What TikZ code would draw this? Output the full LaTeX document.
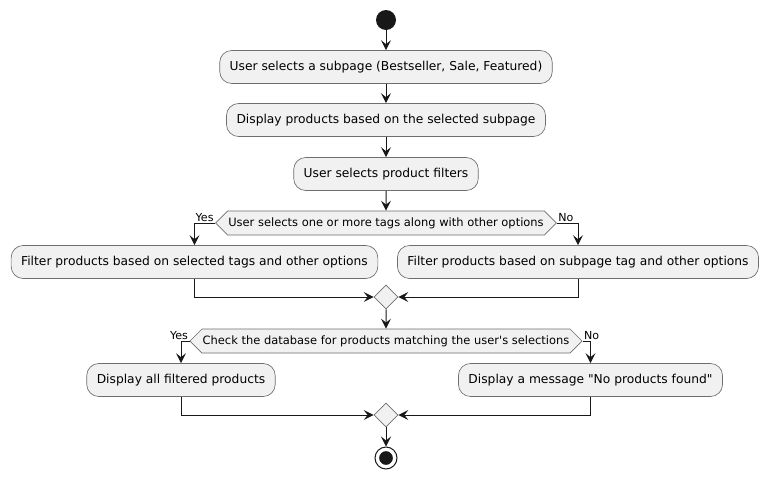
\documentclass[tikz,border=0pt]{standalone}
\usepackage{fontspec}
\setmainfont{DejaVu Sans}[Ligatures=TeXOff]
\usetikzlibrary{arrows.meta,shapes.geometric,shapes.symbols}

\definecolor{umlfill}{RGB}{241,241,241}
\definecolor{umlline}{RGB}{24,24,24}
\definecolor{umlborder}{RGB}{110,110,110}

\begin{document}
\begin{tikzpicture}[x=0.75pt,y=0.75pt,yscale=-1,xscale=1,
  action/.style={draw=umlborder,fill=umlfill,line width=0.5pt,rounded corners=9pt,
    minimum height=24.75pt,inner xsep=7.5pt,font=\fontsize{9.2}{11}\selectfont},
  choice/.style={draw=umlborder,fill=umlfill,line width=0.5pt,shape=signal,
    signal to=east and west,minimum height=18pt,inner xsep=0.5pt,inner ysep=1pt,
    font=\fontsize{8.6}{10}\selectfont},
  merge/.style={draw=umlborder,fill=umlfill,line width=0.5pt,shape=diamond,
    minimum size=18pt,inner sep=0pt},
  guard/.style={inner sep=1pt,font=\fontsize{8.3}{10}\selectfont},
  flow/.style={draw=umlline,line width=0.75pt,-{Stealth[length=7.5pt,width=7.5pt,inset=3pt]}},
  every path/.append style={draw=umlline}]
\path[use as bounding box,draw=none] (0,0) rectangle (768,479);

%Start
\node[circle,fill=umlline,draw=none,minimum size=15pt,inner sep=0pt] (start) at (386,20) {};

%Actions
\node[action] (pickpage) at (386,67) {User selects a subpage (Bestseller, Sale, Featured)};
\node[action] (showpage) at (386,120) {Display products based on the selected subpage};
\node[action] (pickfilter) at (386,174) {User selects product filters};

%Decision tags
\node[choice] (tagq) at (386,223) {User selects one or more tags along with other options};
\node[guard,anchor=south east] (tagyes) at (tagq.west) {Yes};
\node[guard,anchor=south west] (tagno) at (tagq.east) {No};

\node[action] (bytags) at (194.5,262) {Filter products based on selected tags and other options};
\node[action] (bysub) at (578,262) {Filter products based on subpage tag and other options};
\node[merge] (joina) at (386,297) {};

%Decision database
\node[choice] (dbq) at (386,341) {Check the database for products matching the user's selections};
\node[guard,anchor=south east] (dbyes) at (dbq.west) {Yes};
\node[guard,anchor=south west] (dbno) at (dbq.east) {No};

\node[action] (showall) at (181,380) {Display all filtered products};
\node[action] (nomatch) at (590.5,380) {Display a message "No products found"};
\node[merge] (joinb) at (386,415) {};

%Stop
\node[circle,draw=umlline,line width=0.75pt,fill=white,minimum size=16.5pt,inner sep=0pt] (stop) at (386,458) {};
\fill[umlline] (stop.center) circle (6.5);

%Straight Lines
\draw[flow] (start) -- (pickpage);
\draw[flow] (pickpage) -- (showpage);
\draw[flow] (showpage) -- (pickfilter);
\draw[flow] (pickfilter) -- (tagq);
\draw[flow] (tagq.west) -| (bytags);
\draw[flow] (tagq.east) -| (bysub);
\draw[flow] (bytags) |- (joina.west);
\draw[flow] (bysub) |- (joina.east);
\draw[flow] (joina) -- (dbq);
\draw[flow] (dbq.west) -| (showall);
\draw[flow] (dbq.east) -| (nomatch);
\draw[flow] (showall) |- (joinb.west);
\draw[flow] (nomatch) |- (joinb.east);
\draw[flow] (joinb) -- (stop);

\end{tikzpicture}
\end{document}
